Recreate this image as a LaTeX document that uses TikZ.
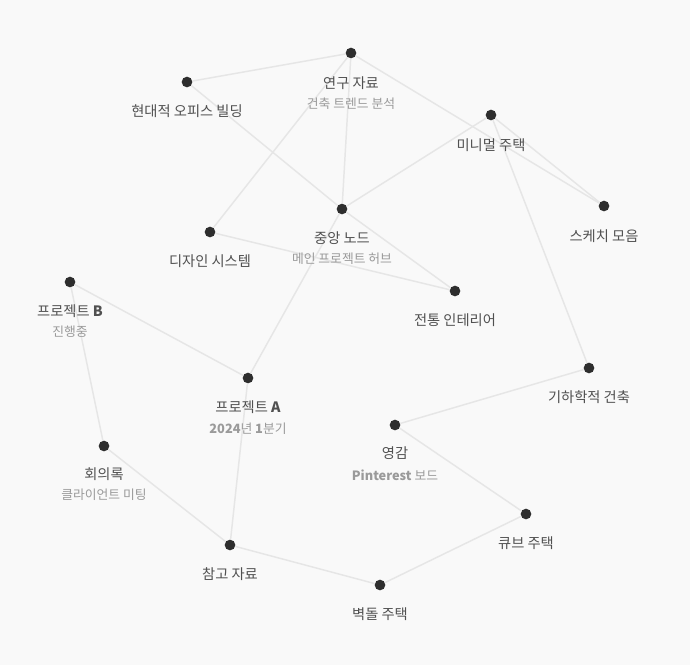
\documentclass[tikz,border=0pt]{standalone}
\usepackage{fontspec}
\setmainfont{Noto Sans CJK KR}
\usepackage{tikz}
\definecolor{bgc}{HTML}{F9F9F9}
\definecolor{dotc}{HTML}{2E2E2E}
\definecolor{linkc}{HTML}{E6E6E6}
\definecolor{lblc}{HTML}{505050}
\definecolor{subc}{HTML}{9A9A9A}
\begin{document}
\begin{tikzpicture}[x=0.75pt, y=-0.75pt,
    dot/.style={circle, fill=dotc, inner sep=0pt, minimum size=8pt},
    lbl/.style={text=lblc, inner sep=0pt, font=\fontsize{10.7}{12}\selectfont},
    sub/.style={text=subc, inner sep=0pt, font=\fontsize{9.6}{11}\selectfont},
    link/.style={draw=linkc, line width=1.1pt}]
    \fill[bgc](0,0) rectangle (690,665);
    % points
    \node[dot](research) at (351,53){};
    \node[dot](office) at (187,82){};
    \node[dot](minimal) at (491,115){};
    \node[dot](sketch) at (604,206){};
    \node[dot](center) at (342,209){};
    \node[dot](design) at (210,232){};
    \node[dot](tradition) at (455,291){};
    \node[dot](projB) at (70,282){};
    \node[dot](geometric) at (589,368){};
    \node[dot](projA) at (248,378){};
    \node[dot](inspire) at (395,425){};
    \node[dot](minutes) at (104,446){};
    \node[dot](cube) at (526,514){};
    \node[dot](refs) at (230,545){};
    \node[dot](brick) at (380,585){};
    % links
    \draw[link](office)--(research);
    \draw[link](office)--(center);
    \draw[link](research)--(center);
    \draw[link](research)--(design);
    \draw[link](research)--(sketch);
    \draw[link](minimal)--(sketch);
    \draw[link](minimal)--(center);
    \draw[link](minimal)--(geometric);
    \draw[link](center)--(tradition);
    \draw[link](design)--(tradition);
    \draw[link](center)--(projA);
    \draw[link](projB)--(projA);
    \draw[link](projB)--(minutes);
    \draw[link](minutes)--(refs);
    \draw[link](projA)--(refs);
    \draw[link](refs)--(brick);
    \draw[link](brick)--(cube);
    \draw[link](cube)--(inspire);
    \draw[link](inspire)--(geometric);
    % labels
    \node[lbl](research-t) at (351,83){연구 자료};
    \node[sub](research-s) at (351,104){건축 트렌드 분석};
    \node[lbl](office-t) at (187,111){현대적 오피스 빌딩};
    \node[lbl](minimal-t) at (491,145){미니멀 주택};
    \node[lbl](sketch-t) at (604,236){스케치 모음};
    \node[lbl](center-t) at (342,238){중앙 노드};
    \node[sub](center-s) at (342,259){메인 프로젝트 허브};
    \node[lbl](design-t) at (210,261){디자인 시스템};
    \node[lbl](tradition-t) at (455,320){전통 인테리어};
    \node[lbl](projB-t) at (70,311){프로젝트 \textbf{B}};
    \node[sub](projB-s) at (70,332){진행중};
    \node[lbl](geometric-t) at (589,397){기하학적 건축};
    \node[lbl](projA-t) at (248,407){프로젝트 \textbf{A}};
    \node[sub](projA-s) at (248,429){\textbf{2024}년 \textbf{1}분기};
    \node[lbl](inspire-t) at (395,453){영감};
    \node[sub](inspire-s) at (395,475){\textbf{Pinterest} 보드};
    \node[lbl](minutes-t) at (104,474){회의록};
    \node[sub](minutes-s) at (104,495){클라이언트 미팅};
    \node[lbl](cube-t) at (526,543){큐브 주택};
    \node[lbl](refs-t) at (230,574){참고 자료};
    \node[lbl](brick-t) at (380,614){벽돌 주택};
\end{tikzpicture}
\end{document}
